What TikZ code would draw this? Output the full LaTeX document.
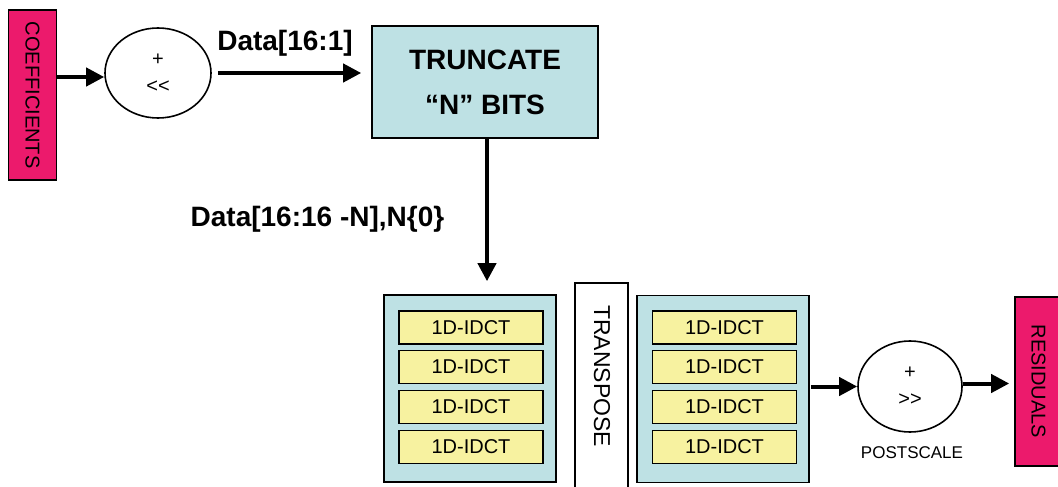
\documentclass[tikz,border=0pt]{standalone}
\usepackage{fontspec}
\setmainfont{Liberation Sans}
\usetikzlibrary{shapes.geometric,arrows.meta}
\definecolor{magentabox}{RGB}{236,26,108}
\definecolor{lightblue}{RGB}{190,225,228}
\definecolor{cellyellow}{RGB}{247,242,160}
\tikzset{
  block/.style={draw=black, line width=1.6pt, inner sep=0pt},
  portbox/.style={block, fill=magentabox, minimum width=48pt, font=\fontsize{20}{22}\selectfont},
  bank/.style={block, fill=lightblue, minimum width=172pt, minimum height=187pt},
  cell/.style={block, fill=cellyellow, minimum width=144pt, minimum height=33pt, font=\fontsize{20}{22}\selectfont},
  opnode/.style={ellipse, draw=black, line width=1.6pt, fill=white, inner sep=0pt, align=center, font=\fontsize{20}{27}\selectfont},
  flow/.style={line width=4pt, -{Triangle[length=18pt,width=18pt]}},
  buslabel/.style={font=\fontsize{28}{30}\selectfont\bfseries},
}
\begin{document}
\begin{tikzpicture}[x=1pt, y=-1pt]
\clip (0,0) rectangle (1058,487);
\fill[white] (0,0) rectangle (1058,487);

% input coefficients and pre-scaling
\node[portbox, minimum height=170pt] (coef) at (32.5,95) {\rotatebox{-90}{COEFFICIENTS}};
\node[opnode, minimum width=106pt, minimum height=90pt] (pre) at (158,73) {+\\<{}<};
\node[block, fill=lightblue, minimum width=226pt, minimum height=112pt, align=center,
      font=\fontsize{28}{45}\selectfont\bfseries] (trunc) at (485,82) {TRUNCATE\\“N” BITS};

\draw[flow] ([yshift=-4pt]coef.east |- pre.west) -- ([yshift=-4pt]pre.west);
\draw[flow, shorten <=6pt, shorten >=10pt] (pre.east) -- (trunc.west |- pre.east);
\node[buslabel] (lab1) at (285,43) {Data[16:1]};

% two passes of 1D-IDCT with transpose between them
\node[bank] (bankA) at (470,388.5) {};
\node[bank] (bankB) at (723,389) {};
\foreach \y [count=\i] in {327.5,367,407,447} {
  \node[cell] (a\i) at (471,\y) {1D-IDCT};
  \node[cell] (b\i) at (724.5,\y) {1D-IDCT};
}
\node[block, fill=white, minimum width=53pt, minimum height=240pt, anchor=north] (trans) at (601.5,282) {};
\node[font=\fontsize{23}{25}\selectfont] (transtxt) at (602,376) {\rotatebox{-90}{TRANSPOSE}};

\draw[flow, shorten >=13pt] ([xshift=2pt]trunc.south) -- ([xshift=2pt]trunc.south |- bankA.north);
\node[buslabel] (lab2) at (317.5,219) {Data[16:16 -N],N\{0\}};

% post-scaling and output residuals
\node[opnode, minimum width=104pt, minimum height=91pt] (post) at (910,386.5) {+\\>{}>};
\node[font=\fontsize{17}{19}\selectfont] (postlab) at (912,453) {POSTSCALE};
\node[portbox, minimum width=47pt, minimum height=169pt] (res) at (1038.5,381.5) {\rotatebox{-90}{RESIDUALS}};

\draw[flow, shorten <=1pt] (bankB.east |- post.west) -- (post.west);
\draw[flow, shorten >=5pt] ([yshift=3pt]post.east) -- ([yshift=3pt]res.west |- post.east);
\end{tikzpicture}
\end{document}
